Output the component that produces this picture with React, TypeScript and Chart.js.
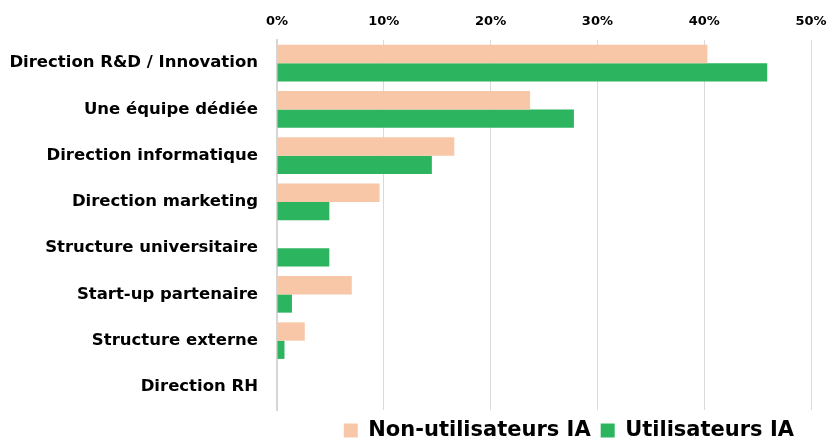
import React, { useEffect, useRef } from "react";
import { Chart, registerables } from "chart.js";

Chart.register(...registerables);

const categories = [
  "Direction R&D / Innovation",
  "Une équipe dédiée",
  "Direction informatique",
  "Direction marketing",
  "Structure universitaire",
  "Start-up partenaire",
  "Structure externe",
  "Direction RH",
];
const nonUtilisateurs = [40.3, 23.7, 16.6, 9.6, 0, 7.0, 2.6, 0];
const utilisateurs = [45.9, 27.8, 14.5, 4.9, 4.9, 1.4, 0.7, 0];
const seriesNames = ["Non-utilisateurs IA", "Utilisateurs IA"];
const xTicks = [0, 10, 20, 30, 40, 50];

const FONT = "'DejaVu Sans', sans-serif";

const legendShift = {
  id: "legendShift",
  afterLayout(chart: any) {
    if (chart.legend) chart.legend.right -= 7;
  },
};

export default function App() {
  const ref = useRef<HTMLCanvasElement | null>(null);
  useEffect(() => {
    if (!ref.current) return;
    const chart = new Chart(ref.current, {
      type: "bar",
      data: {
        labels: categories,
        datasets: [
          {
            label: seriesNames[0],
            data: nonUtilisateurs,
            backgroundColor: "#F8C7A7",
            barPercentage: 1,
            categoryPercentage: 0.79,
          },
          {
            label: seriesNames[1],
            data: utilisateurs,
            backgroundColor: "#2CB45E",
            barPercentage: 1,
            categoryPercentage: 0.79,
          },
        ],
      },
      plugins: [legendShift],
      options: {
        indexAxis: "y",
        animation: false,
        responsive: true,
        maintainAspectRatio: false,
        layout: { padding: { left: 0, right: 18, top: 0, bottom: -10 } },
        plugins: {
          tooltip: { enabled: false },
          legend: {
            position: "bottom",
            align: "end",
            labels: {
              boxWidth: 14,
              boxHeight: 14,
              padding: 10,
              color: "#000",
              font: { family: FONT, size: 21, weight: "bold" },
            },
          },
        },
        scales: {
          x: {
            position: "top",
            min: xTicks[0],
            max: xTicks[xTicks.length - 1],
            afterBuildTicks: (s: any) => {
              s.ticks = xTicks.map((v) => ({ value: v }));
            },
            afterFit: (s: any) => {
              s.height = 40;
              s.paddingRight = 0;
              s.paddingLeft = 0;
            },
            ticks: {
              stepSize: 10,
              padding: 11,
              color: "#000",
              font: { family: FONT, size: 13, weight: "bold" },
              callback: (v: any) => v + "%",
            },
            grid: { color: "#d9d9d9", lineWidth: 1, drawTicks: false },
            border: { display: false },
          },
          y: {
            afterFit: (s: any) => {
              s.width = 277;
            },
            ticks: {
              padding: 19,
              color: "#000",
              font: { family: FONT, size: 16.5, weight: "bold" },
            },
            grid: { display: false, drawTicks: false },
            border: { display: true, color: "#d6d6d6", width: 2 },
          },
        },
      },
    });
    return () => chart.destroy();
  }, []);
  return (
    <div style={{ position: "absolute", left: 0, top: 0, width: 829, height: 441, background: "#fff" }}>
      <canvas ref={ref} />
    </div>
  );
}
